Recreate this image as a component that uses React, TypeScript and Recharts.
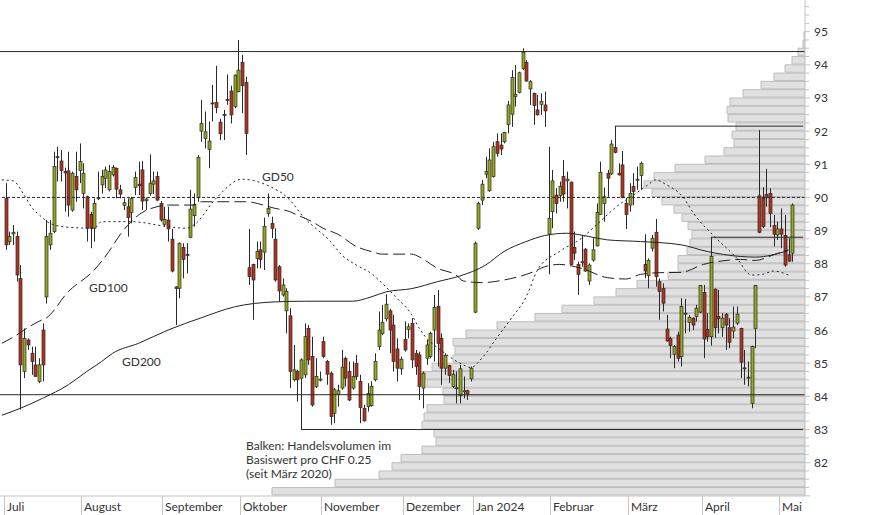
import React from "react";
import { ComposedChart, BarChart, Bar, Line, XAxis, YAxis, ReferenceLine } from "recharts";

// --- axis labels ---
const monthLabels = ["Juli", "August", "September", "Oktober", "November", "Dezember", "Jan 2024", "Februar", "März", "April", "Mai"];
const monthStarts = [1, 22, 44, 65, 87, 109, 128, 149, 170, 190, 211];
const priceLabels = [82, 83, 84, 85, 86, 87, 88, 89, 90, 91, 92, 93, 94, 95];
const SLOTS = 218; // one empty slot before July, a few after the last candle

// --- daily candles (Jul 2023 .. May 2024), one row per month ---
const open = [
  89.97, 88.67, 88.9, 88.82, 87.56, 84.75, 85.7, 85.3, 84.95, 84.45, 86.0, 87.0, 88.57, 88.97, 91.23, 91.1, 90.78, 90.8, 89.62, 90.63, 90.81,
  90.12, 90.02, 89.49, 89.07, 89.97, 90.38, 90.58, 90.23, 90.68, 90.88, 90.23, 89.76, 89.72, 89.55, 90.3, 90.4, 90.83, 89.9, 90.12, 90.4, 90.63, 89.82,
  89.19, 89.32, 88.74, 87.3, 87.26, 88.49, 88.28, 88.79, 89.45, 89.99, 92.0, 91.78, 91.45, 92.85, 92.87, 92.27, 92.5, 92.96, 93.21, 92.74, 93.19,
  94.07, 93.47, 87.88, 87.98, 88.16, 88.42, 88.35, 89.52, 89.22, 88.74, 87.91, 87.06, 86.58, 86.43, 84.5, 84.75, 84.55, 84.65, 86.05, 85.2, 84.3, 84.5,
  85.65, 85.05, 84.7, 83.49, 84.06, 84.25, 85.15, 84.75, 84.25, 85.0, 84.45, 83.64, 83.69, 83.72, 84.5, 85.5, 85.9, 86.34, 86.58, 86.15, 85.43, 84.83,
  85.72, 86.02, 86.2, 85.3, 85.25, 84.25, 85.15, 85.2, 86.0, 86.71, 85.75, 84.85, 84.93, 84.3, 84.24, 84.02, 84.15, 84.17, 84.53,
  86.54, 89.07, 89.92, 90.7, 90.2, 90.63, 91.68, 91.58, 91.68, 92.2, 92.51, 93.04, 93.17, 93.89, 94.07, 93.27, 93.14, 92.64, 92.81, 92.79, 88.89,
  89.57, 90.07, 90.05, 90.63, 90.5, 90.46, 88.49, 87.98, 88.04, 88.44, 87.48, 88.11, 88.54, 89.49, 89.82, 90.73, 90.71, 91.51, 90.73, 90.98, 89.82,
  89.77, 90.33, 90.53, 90.66, 87.98, 87.64, 88.47, 88.95, 87.46, 87.26, 86.03, 85.75, 85.27, 85.85, 85.2, 86.51, 86.23, 86.36, 86.41, 86.54,
  87.13, 86.02, 85.8, 87.23, 86.41, 86.07, 86.48, 86.07, 85.97, 86.21, 86.05, 84.86, 84.58, 83.79, 86.05, 90.05, 89.97, 90.09, 90.12, 89.15, 88.87,
  89.05, 88.85, 88.27, 88.32,
];
const high = [
  90.43, 88.97, 89.17, 88.97, 87.96, 86.05, 85.75, 85.5, 85.5, 85.15, 86.2, 89.32, 89.32, 91.38, 91.53, 91.43, 90.9, 91.38, 90.78, 91.38, 91.63,
  91.03, 90.05, 89.57, 89.97, 90.78, 90.83, 90.93, 90.98, 90.98, 90.9, 90.38, 89.97, 89.97, 90.02, 90.78, 91.08, 91.1, 90.0, 91.3, 90.78, 90.78, 89.89,
  89.72, 89.72, 89.05, 87.32, 88.64, 88.62, 88.62, 90.23, 90.12, 91.28, 92.94, 92.59, 92.29, 93.39, 93.97, 92.37, 92.64, 93.71, 93.37, 93.71, 94.75,
  94.3, 93.64, 89.05, 88.0, 88.67, 88.67, 89.39, 90.12, 89.42, 89.07, 87.96, 87.56, 87.26, 86.66, 85.55, 84.8, 85.15, 86.2, 86.15, 85.8, 85.15, 84.75,
  85.8, 85.1, 84.75, 84.25, 84.35, 85.4, 85.2, 85.05, 85.05, 85.25, 84.65, 83.74, 84.4, 84.45, 85.3, 86.56, 86.76, 87.08, 86.64, 86.46, 85.75, 85.2,
  86.26, 86.2, 86.36, 85.4, 85.35, 84.75, 85.7, 85.95, 87.06, 87.21, 85.9, 85.3, 84.95, 84.8, 84.75, 84.95, 84.6, 84.2, 84.9,
  88.67, 89.87, 90.53, 91.23, 91.48, 91.68, 91.93, 91.93, 91.98, 92.91, 93.84, 93.99, 93.79, 94.5, 94.14, 93.54, 93.16, 93.09, 93.14, 93.19, 91.53,
  90.83, 90.28, 90.48, 91.13, 90.78, 90.48, 88.97, 88.06, 88.87, 88.47, 88.01, 88.77, 89.82, 91.08, 90.3, 90.83, 91.73, 92.15, 91.03, 91.4, 89.99,
  90.43, 90.73, 90.93, 91.08, 88.89, 88.16, 88.87, 89.35, 87.56, 87.41, 86.46, 85.8, 85.55, 85.95, 86.96, 86.94, 86.46, 86.38, 86.76, 87.36,
  87.36, 86.51, 88.8, 87.26, 87.21, 86.51, 86.51, 86.36, 86.71, 86.71, 86.07, 85.4, 85.05, 85.53, 87.36, 92.03, 90.31, 90.86, 90.28, 89.47, 89.27,
  89.67, 89.47, 88.77, 89.82,
];
const low = [
  88.42, 88.57, 88.57, 87.46, 83.6, 84.55, 85.4, 84.65, 84.6, 84.4, 84.45, 86.8, 88.42, 88.92, 90.48, 90.48, 89.57, 89.42, 89.57, 89.87, 90.43,
  89.67, 88.67, 88.47, 88.67, 89.92, 90.12, 90.28, 90.18, 90.63, 89.97, 89.97, 89.62, 88.82, 89.22, 90.07, 90.07, 89.62, 89.62, 90.05, 90.1, 89.89, 89.27,
  89.12, 88.67, 87.74, 86.15, 86.96, 87.56, 87.71, 88.77, 89.12, 89.87, 91.68, 91.48, 90.88, 92.29, 92.54, 91.73, 91.73, 92.79, 92.23, 92.69, 93.17,
  92.54, 91.28, 87.36, 86.31, 87.86, 87.86, 87.81, 89.42, 88.77, 87.46, 86.86, 87.01, 85.9, 84.25, 84.45, 83.84, 83.0, 84.55, 84.95, 83.69, 84.25, 84.45,
  85.15, 84.35, 83.14, 83.19, 83.69, 84.2, 84.3, 83.86, 84.2, 84.5, 83.19, 83.24, 83.54, 83.69, 84.45, 85.4, 85.85, 86.26, 85.3, 84.75, 84.45, 84.65,
  85.35, 85.75, 84.85, 84.65, 83.89, 83.64, 84.95, 85.15, 85.05, 84.9, 84.35, 84.65, 84.4, 84.25, 83.79, 83.79, 83.94, 83.89, 84.45,
  86.51, 89.02, 89.77, 90.58, 90.17, 90.6, 91.23, 91.28, 91.63, 91.93, 92.13, 92.74, 93.14, 93.84, 93.49, 92.79, 92.19, 92.47, 92.49, 92.13, 87.68,
  89.07, 89.52, 89.87, 89.87, 89.67, 87.96, 88.11, 87.06, 87.91, 87.76, 87.36, 88.06, 88.52, 89.47, 89.27, 90.02, 90.68, 91.33, 90.66, 89.97, 89.05,
  89.57, 89.77, 90.23, 90.23, 87.56, 87.26, 88.37, 87.31, 86.31, 86.56, 85.65, 85.15, 84.85, 85.05, 84.9, 85.9, 85.95, 86.0, 86.26, 86.51,
  85.15, 85.65, 85.53, 85.77, 85.9, 85.8, 85.4, 85.45, 85.75, 86.15, 84.55, 84.35, 84.3, 83.64, 85.45, 88.92, 89.07, 89.72, 89.1, 88.52, 88.72,
  88.47, 87.91, 88.06, 88.06,
];
const close = [
  88.57, 88.82, 88.95, 87.66, 84.95, 85.75, 85.55, 85.05, 84.6, 84.95, 84.95, 88.82, 88.92, 90.93, 91.2, 90.81, 90.74, 89.77, 90.73, 90.23, 91.08,
  90.73, 89.07, 89.07, 89.82, 89.99, 90.63, 90.83, 90.78, 90.9, 90.25, 90.1, 89.84, 89.39, 89.97, 90.6, 90.35, 89.89, 89.95, 90.43, 90.5, 89.92, 89.32,
  89.34, 89.05, 87.78, 87.25, 88.62, 88.13, 88.25, 89.65, 89.79, 91.21, 92.23, 91.98, 91.7, 92.83, 92.71, 91.92, 92.48, 92.94, 92.49, 93.69, 93.84,
  93.37, 91.93, 87.61, 87.51, 88.37, 88.13, 89.12, 89.67, 89.07, 87.51, 87.18, 87.36, 87.16, 84.75, 84.8, 84.5, 85.1, 85.8, 85.1, 83.74, 84.6, 84.52,
  85.2, 84.67, 83.39, 84.2, 84.17, 84.88, 84.55, 83.89, 84.6, 84.6, 83.66, 83.26, 84.09, 84.3, 85.05, 86.0, 86.23, 86.78, 86.0, 85.05, 84.85, 85.12,
  85.4, 86.1, 85.1, 84.9, 84.3, 84.7, 85.55, 85.9, 86.68, 85.6, 84.85, 85.23, 84.63, 84.67, 84.26, 84.83, 84.17, 84.06, 84.85,
  88.62, 89.82, 90.4, 90.78, 91.13, 91.53, 91.33, 91.46, 91.96, 92.79, 93.62, 93.11, 93.76, 94.37, 93.51, 93.49, 92.77, 92.49, 92.89, 92.61, 89.37,
  90.5, 89.82, 90.33, 90.1, 90.55, 87.98, 88.32, 87.68, 88.06, 87.78, 87.96, 88.42, 89.55, 90.76, 90.02, 90.58, 91.61, 91.36, 90.68, 90.0, 89.49,
  90.12, 90.18, 90.55, 91.03, 87.78, 88.1, 88.77, 87.61, 87.16, 86.81, 85.67, 85.53, 85.5, 85.15, 86.71, 86.49, 86.38, 86.15, 86.66, 87.34,
  85.73, 85.8, 88.22, 86.07, 86.34, 86.36, 86.15, 85.63, 86.09, 86.48, 85.03, 84.84, 84.56, 85.5, 87.34, 88.95, 89.12, 89.99, 89.52, 88.89, 89.05,
  88.89, 87.96, 88.08, 89.77,
];

// --- moving averages, [slot, value] ---
const gd50 = [
  [0, 90.53], [3, 90.5], [6, 90.08], [8, 89.72], [11, 89.39], [13, 89.22], [18, 89.1], [25, 89.07], [27, 89.27], [35, 89.27],
  [45, 89.12], [50, 89.07], [52, 89.17], [58, 89.97], [65, 90.55], [70, 90.45], [74, 90.25], [76, 90.12], [78, 89.92], [82, 89.37],
  [85, 89.07], [89, 88.67], [92, 88.27], [96, 87.96], [100, 87.71], [103, 87.41], [107, 86.96], [111, 86.46], [113, 86.06], [120, 85.3],
  [125, 84.95], [127, 84.87], [130, 85.15], [134, 85.76], [138, 86.36], [142, 87.0], [145, 87.8], [151, 88.37], [157, 88.77], [161, 89.17],
  [167, 89.77], [171, 90.07], [175, 90.38], [177, 90.53], [180, 90.38], [184, 90.07], [188, 89.42], [193, 88.82], [199, 88.17], [203, 87.66],
  [206, 87.68], [209, 87.78], [213, 87.66],
];
const gd100 = [
  [0, 85.6], [4, 85.85], [6, 86.0], [10, 86.26], [12, 86.36], [18, 87.16], [25, 87.81], [29, 88.37], [32, 88.87], [37, 89.47],
  [42, 89.72], [45, 89.77], [52, 89.77], [54, 89.87], [66, 89.87], [74, 89.67], [78, 89.57], [80, 89.47], [84, 89.27], [87, 89.07],
  [91, 88.89], [96, 88.52], [100, 88.37], [103, 88.29], [111, 88.29], [113, 88.21], [118, 87.86], [123, 87.66], [125, 87.48], [130, 87.43],
  [136, 87.51], [144, 87.76], [147, 87.91], [151, 87.98], [157, 87.86], [164, 87.58], [169, 87.54], [173, 87.68], [178, 87.73], [184, 87.74],
  [190, 87.98], [197, 88.11], [200, 88.13], [204, 88.1], [209, 88.27], [213, 88.42],
];
const gd200 = [
  [0, 83.43], [5, 83.64], [11, 83.94], [18, 84.35], [23, 84.75], [27, 85.05], [30, 85.3], [37, 85.6], [45, 86.0], [54, 86.37],
  [63, 86.7], [74, 86.85], [82, 86.87], [95, 86.87], [100, 87.0], [104, 87.15], [111, 87.25], [118, 87.46], [124, 87.63], [131, 87.96],
  [136, 88.37], [142, 88.67], [147, 88.85], [153, 88.92], [159, 88.82], [164, 88.72], [173, 88.67], [184, 88.57], [191, 88.37], [200, 88.22],
  [204, 88.2], [213, 88.4],
];

// --- volume profile: relative volume per CHF 0.25 bucket, from 81.00 upward ---
const profileFrom = 81;
const profileStep = 0.25;
const profileVolume = [
  533, 470, 426, 413, 404, 383, 369, 371, 383, 381,
  378, 361, 362, 378, 383, 373, 352, 350, 352, 339,
  308, 270, 243, 211, 189, 168, 137, 127, 127, 118,
  115, 113, 117, 123, 131, 143, 153, 161, 151, 130,
  100, 81, 71, 73, 69, 77, 78, 75, 62, 44,
  31, 20, 13, 7, 2, 1,
];
const VOL_MAX = 805;

// --- horizontal levels ---
const fullLevels = [94.4, 84.05];
const dottedLevel = 90;
const stepLevels = [
  { from: 81, y: 83.0 },
  { from: 166, y: 92.15 },
  { from: 192, y: 88.8 },
];

const W = 874;
const H = 515;
const AXIS_W = 69;
const AXIS_H = 19;
const Y_MIN = 80.995;
const Y_MAX = 95.955;
const PLOT_W = W - AXIS_W;
const PLOT_H = H - AXIS_H;
const BAND = PLOT_W / SLOTS;

const GREEN = "#97a81c";
const RED = "#b3321e";
const INK = "#2a2a2a";
const GRID = "#c4c4c4";
const FONT = "Lato, 'Open Sans', sans-serif";

const rows = Array.from({ length: SLOTS }, (_, i) => {
  const k = i - 1;
  const has = k >= 0 && k < open.length;
  return {
    i,
    o: has ? open[k] : null,
    h: has ? high[k] : null,
    l: has ? low[k] : null,
    c: has ? close[k] : null,
    hl: has ? [low[k], high[k]] : null,
    g50: null as number | null,
    g100: null as number | null,
    g200: null as number | null,
  };
});
gd50.forEach(([i, v]) => (rows[i].g50 = v));
gd100.forEach(([i, v]) => (rows[i].g100 = v));
gd200.forEach(([i, v]) => (rows[i].g200 = v));

const profileRows = profileVolume.map((v, j) => ({ p: profileFrom + profileStep * j + profileStep / 2, v }));

const yTicks: number[] = [];
for (let t = 81; t <= 95.75 + 1e-9; t += 0.25) yTicks.push(Math.round(t * 100) / 100);

function Candle(props: any) {
  const { x, y, width, height, payload } = props;
  if (!payload || payload.o == null) return null;
  const { o, h, l, c } = payload;
  const top = Math.min(y, y + height);
  const bot = Math.max(y, y + height);
  const k = (bot - top) / Math.max(h - l, 1e-6);
  const cx = Math.round(x + width / 2) + 0.5;
  const yo = top + (h - o) * k;
  const yc = top + (h - c) * k;
  const bTop = Math.min(yo, yc);
  const bH = Math.max(Math.abs(yo - yc), 1);
  return (
    <g>
      <line x1={cx} x2={cx} y1={top} y2={bot} stroke={INK} strokeWidth={1} />
      <rect x={cx - 1.5} y={bTop} width={3} height={bH} fill={c >= o ? GREEN : RED} stroke={INK} strokeWidth={0.7} />
    </g>
  );
}

function MonthTick(props: any) {
  const { x, y, payload } = props;
  const k = monthStarts.indexOf(payload.value);
  if (k < 0) return null;
  const bx = Math.round(x - (payload.offset ?? BAND / 2)) + 0.5;
  return (
    <g>
      <line x1={bx} x2={bx} y1={y} y2={y + AXIS_H} stroke={GRID} />
      <text x={bx + 2.5} y={y + 15} fontSize={12} fill="#333" fontFamily={FONT}>
        {monthLabels[k]}
      </text>
    </g>
  );
}

function PriceTick(props: any) {
  const { x, y, payload } = props;
  const v = payload.value;
  const major = Math.abs(v - Math.round(v)) < 1e-6;
  return (
    <g>
      <line x1={x} x2={x + (major ? 5 : 4)} y1={y} y2={y} stroke={GRID} />
      {priceLabels.includes(v) && (
        <text x={x + 9} y={y} dy={4.5} fontSize={12} fill="#333" fontFamily={FONT}>
          {v}
        </text>
      )}
    </g>
  );
}

const noDot = (p: any) => <g key={`d${p.index}`} />;

const note: React.CSSProperties = {
  position: "absolute",
  fontFamily: FONT,
  fontSize: 12,
  color: "#333",
  whiteSpace: "nowrap",
  lineHeight: "14px",
};

export default function App() {
  return (
    <div style={{ position: "absolute", left: 0, top: 0, width: W, height: H, background: "#fff" }}>
      <div style={{ position: "absolute", left: 0, top: 0 }}>
        <BarChart
          layout="vertical"
          width={W}
          height={H}
          data={profileRows}
          margin={{ top: 0, right: AXIS_W, bottom: AXIS_H, left: 0 }}
          barCategoryGap={0}
          barGap={0}
        >
          <XAxis type="number" domain={[0, VOL_MAX]} reversed hide allowDataOverflow />
          <YAxis type="number" dataKey="p" domain={[Y_MIN, Y_MAX]} reversed hide allowDataOverflow />
          <Bar
            dataKey="v"
            fill="#e0e0e0"
            stroke="#bdbdbd"
            strokeWidth={1}
            barSize={(PLOT_H / (Y_MAX - Y_MIN)) * profileStep}
            isAnimationActive={false}
          />
        </BarChart>
      </div>
      <div style={{ position: "absolute", left: 0, top: 0 }}>
        <ComposedChart
          width={W}
          height={H}
          data={rows}
          margin={{ top: 0, right: 0, bottom: 0, left: 0 }}
          barCategoryGap={0}
        >
          <XAxis
            dataKey="i"
            type="category"
            interval={0}
            height={AXIS_H}
            tickSize={0}
            tickMargin={0}
            tickLine={false}
            axisLine={{ stroke: GRID }}
            tick={(p: any) => <MonthTick {...p} />}
          />
          <YAxis
            orientation="right"
            type="number"
            domain={[Y_MIN, Y_MAX]}
            ticks={yTicks}
            width={AXIS_W}
            tickSize={0}
            tickMargin={0}
            tickLine={false}
            axisLine={{ stroke: GRID }}
            allowDataOverflow
            interval={0}
            tick={(p: any) => <PriceTick {...p} />}
          />
          {fullLevels.map((v) => (
            <ReferenceLine key={v} y={v} stroke={INK} strokeWidth={1} />
          ))}
          <ReferenceLine y={dottedLevel} stroke={INK} strokeWidth={1} strokeDasharray="3 2" />
          {stepLevels.map((s) => (
            <ReferenceLine
              key={s.y}
              segment={[{ x: s.from, y: s.y }, { x: SLOTS - 1, y: s.y }]}
              stroke={INK}
              strokeWidth={1}
            />
          ))}
          <Line dataKey="g200" stroke="#222" strokeWidth={1} dot={noDot} activeDot={false} connectNulls type="monotone" isAnimationActive={false} />
          <Line dataKey="g100" stroke="#222" strokeWidth={1} strokeDasharray="12 5" dot={noDot} activeDot={false} connectNulls type="monotone" isAnimationActive={false} />
          <Line dataKey="g50" stroke="#222" strokeWidth={1} strokeDasharray="2 3" dot={noDot} activeDot={false} connectNulls type="monotone" isAnimationActive={false} />
          <Bar dataKey="hl" shape={(p: any) => <Candle {...p} />} isAnimationActive={false} />
        </ComposedChart>
      </div>
      <div style={{ ...note, left: 262, top: 170 }}>GD50</div>
      <div style={{ ...note, left: 89, top: 281 }}>GD100</div>
      <div style={{ ...note, left: 122, top: 355 }}>GD200</div>
      <div style={{ ...note, left: 246, top: 439 }}>
        Balken: Handelsvolumen im
        <br />
        Basiswert pro CHF 0.25
        <br />
        (seit März 2020)
      </div>
    </div>
  );
}
